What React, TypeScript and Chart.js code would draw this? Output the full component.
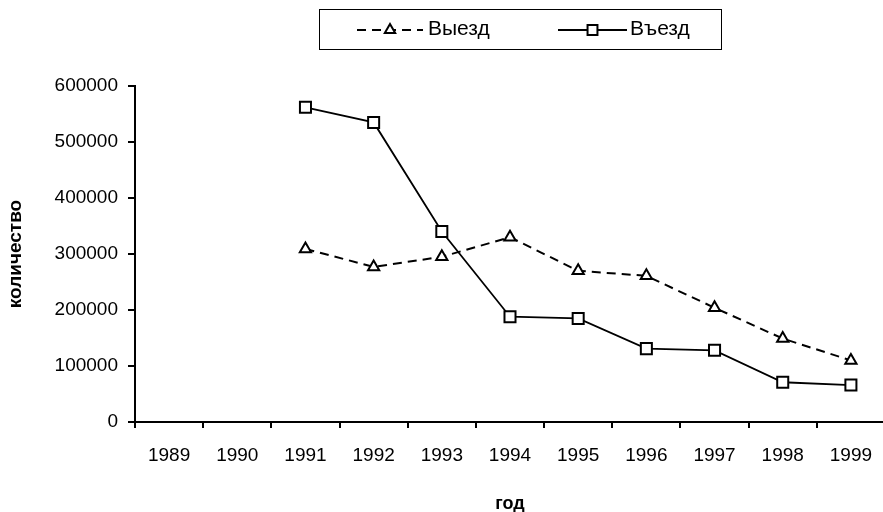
import React, { useEffect, useRef } from "react";
import { Chart, registerables } from "chart.js";

Chart.register(...registerables);

const years = ["1989", "1990", "1991", "1992", "1993", "1994", "1995", "1996", "1997", "1998", "1999"];
const departures = [null, null, 309000, 277000, 295000, 330000, 270000, 261000, 204000, 149000, 110000];
const arrivals = [null, null, 562000, 535000, 340000, 188000, 185000, 131000, 128000, 71000, 66000];
const seriesNames = ["Выезд", "Въезд"];
const yTitle = "количество";
const xTitle = "год";

const FONT = "'Liberation Sans', Arial, sans-serif";

function drawMarker(ctx: CanvasRenderingContext2D, style: string, x: number, y: number, r: number) {
  ctx.beginPath();
  if (style === "triangle") {
    const w = r * Math.sin(Math.PI / 3);
    ctx.moveTo(x, y - r);
    ctx.lineTo(x + w, y + r / 2);
    ctx.lineTo(x - w, y + r / 2);
    ctx.closePath();
  } else {
    const s = r * Math.SQRT1_2;
    ctx.rect(x - s, y - s, 2 * s, 2 * s);
  }
  ctx.fillStyle = "#fff";
  ctx.fill();
  ctx.setLineDash([]);
  ctx.lineWidth = 2;
  ctx.strokeStyle = "#000";
  ctx.stroke();
}

const boxLegend = {
  id: "boxLegend",
  afterDraw(chart: any) {
    const ctx: CanvasRenderingContext2D = chart.ctx;
    ctx.save();
    ctx.strokeStyle = "#000";
    ctx.lineWidth = 1;
    ctx.setLineDash([]);
    ctx.strokeRect(319.5, 9.5, 402, 40);
    const items = [
      { x0: 357, x1: 423, tx: 428, r: 6, ds: chart.data.datasets[0] },
      { x0: 558, x1: 627, tx: 630, r: 7, ds: chart.data.datasets[1] },
    ];
    const ly = 30;
    items.forEach((it) => {
      ctx.beginPath();
      ctx.setLineDash(it.ds.borderDash || []);
      ctx.lineWidth = it.ds.borderWidth;
      ctx.strokeStyle = "#000";
      ctx.moveTo(it.x0, ly);
      ctx.lineTo(it.x1, ly);
      ctx.stroke();
      drawMarker(ctx, it.ds.pointStyle, (it.x0 + it.x1) / 2, ly, it.r);
      ctx.fillStyle = "#000";
      ctx.font = `21px ${FONT}`;
      ctx.textBaseline = "alphabetic";
      ctx.textAlign = "left";
      ctx.fillText(it.ds.label, it.tx, 34.5);
    });
    ctx.restore();
  },
};

export default function App() {
  const ref = useRef<HTMLCanvasElement>(null);

  useEffect(() => {
    if (!ref.current) return;
    const chart = new Chart(ref.current, {
      type: "line",
      data: {
        labels: years,
        datasets: [
          {
            label: seriesNames[0],
            data: departures,
            borderColor: "#000",
            borderWidth: 2,
            borderDash: [9, 6],
            pointStyle: "triangle",
            pointRadius: 6.5,
            pointBorderWidth: 2,
            pointBackgroundColor: "#fff",
            pointBorderColor: "#000",
            tension: 0,
          },
          {
            label: seriesNames[1],
            data: arrivals,
            borderColor: "#000",
            borderWidth: 1.8,
            pointStyle: "rect",
            pointRadius: 7.8,
            pointBorderWidth: 2,
            pointBackgroundColor: "#fff",
            pointBorderColor: "#000",
            tension: 0,
          },
        ],
      },
      options: {
        animation: false,
        responsive: false,
        devicePixelRatio: 1,
        layout: { autoPadding: false, padding: { top: 86, left: 0, right: 0, bottom: 0 } },
        plugins: { legend: { display: false }, tooltip: { enabled: false } },
        scales: {
          x: {
            type: "category",
            offset: true,
            grid: { offset: true, drawOnChartArea: false, drawTicks: true, tickLength: 6, color: "#000", lineWidth: 2 },
            border: { display: true, color: "#000", width: 2 },
            ticks: { color: "#000", font: { family: FONT, size: 19 }, padding: 16, maxRotation: 0, autoSkip: false },
            title: { display: true, text: xTitle, color: "#000", font: { family: FONT, size: 18, weight: "bold" }, padding: { top: 0, bottom: -3 } },
            afterFit: (scale: any) => {
              scale.height = 90;
              scale.paddingLeft = 0;
              scale.paddingRight = 0;
            },
          },
          y: {
            min: 0,
            max: 600000,
            ticks: { stepSize: 100000, color: "#000", font: { family: FONT, size: 19 }, padding: 10, callback: (v: any) => String(v) },
            grid: { drawOnChartArea: false, drawTicks: true, tickLength: 7, color: "#000", lineWidth: 2 },
            border: { display: true, color: "#000", width: 2 },
            title: { display: true, text: yTitle, color: "#000", font: { family: FONT, size: 19, weight: "bold" }, padding: { top: 4.6, bottom: 0 } },
            afterFit: (scale: any) => {
              scale.width = 135;
            },
          },
        },
      },
      plugins: [boxLegend],
    });
    return () => chart.destroy();
  }, []);

  return (
    <div style={{ position: "fixed", left: 0, top: 0, width: 883, height: 512, background: "#fff", overflow: "hidden" }}>
      <canvas ref={ref} width={885} height={512} style={{ display: "block", width: 885, height: 512 }} />
    </div>
  );
}
